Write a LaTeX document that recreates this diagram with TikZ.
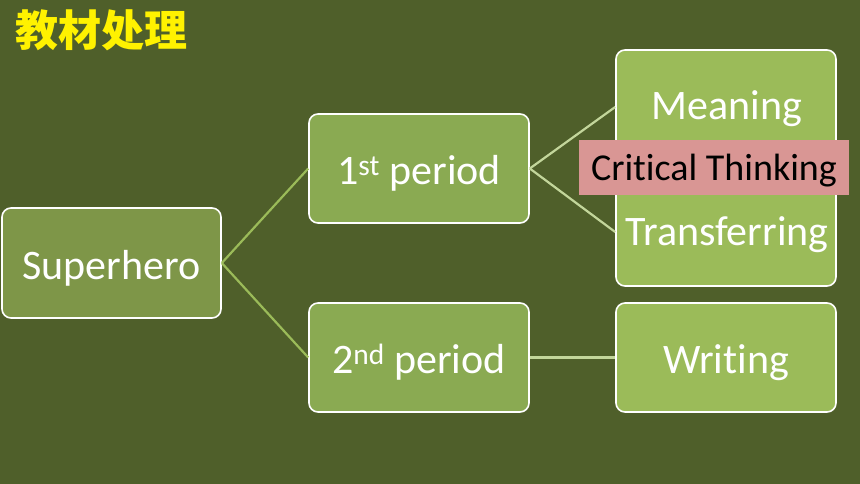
\documentclass[tikz,border=0pt]{standalone}
\usepackage{fontspec}
\setmainfont{Carlito}[Ligatures=NoCommon]
\newfontfamily\cjk{Noto Sans CJK SC}
\usetikzlibrary{positioning, calc}
\definecolor{boardbg}{HTML}{4F5F2A}
\definecolor{rootgreen}{HTML}{7E9648}
\definecolor{midgreen}{HTML}{8AAA52}
\definecolor{leafgreen}{HTML}{9BBB59}
\definecolor{linkdark}{HTML}{9BBB59}
\definecolor{linklight}{HTML}{C3D69B}
\definecolor{tagpink}{HTML}{D99694}
\tikzset{
    boxtext/.style = {text=white, font=\fontsize{42}{46}\selectfont,
                      text height=34pt, text depth=2pt, inner sep=0pt},
    box/.style = {boxtext, draw=white, line width=1.6pt, rounded corners=9pt},
    link/.style = {line width=2.2pt},
}
\begin{document}
\begin{tikzpicture}[x=1pt, y=-1pt]
                \fill[boardbg] (0,0) rectangle (860,484);
                \useasboundingbox (0,0) rectangle (860,484);
                \node[anchor=west, text=yellow, font=\cjk\bfseries\fontsize{43}{46}\selectfont] (title) at (12,30) {教材处理};
                \node[box, fill=rootgreen, minimum width=219pt, minimum height=110pt] (hero) at (111.5,263) {Superhero};
                \node[box, fill=midgreen, minimum width=220pt, minimum height=109pt] (first) at (419,168.5) {1\textsuperscript{st} period};
                \node[box, fill=midgreen, minimum width=220pt, minimum height=109pt] (second) at (419,357.5) {2\textsuperscript{nd} period};
                \node[box, fill=leafgreen, minimum width=220pt, minimum height=236pt] (skills) at (726,168) {};
                \node[box, fill=leafgreen, minimum width=220pt, minimum height=109pt] (writing) at (726,357.5) {Writing};
                \node[boxtext] (meaning) at (727,104) {Meaning};
                \node[boxtext] (transfer) at (727,229) {Transferring};
                \coordinate (skillstop) at ($(skills.west)+(0,-61)$);
                \coordinate (skillsbot) at ($(skills.west)+(0,64)$);
                \draw[link, linkdark] (hero.east) -- (first.west);
                \draw[link, linkdark] (hero.east) -- (second.west);
                \draw[link, linklight] (first.east) -- (skillstop);
                \draw[link, linklight] (first.east) -- (skillsbot);
                \draw[link, linklight] (second.east) -- (writing.west);
                \node[fill=tagpink, minimum width=270pt, minimum height=55pt, inner sep=0pt,
                      text height=29pt, text depth=2pt,
                      font=\fontsize{38}{42}\selectfont] (critical) at (714,167.5) {Critical Thinking};
            \end{tikzpicture}
\end{document}
